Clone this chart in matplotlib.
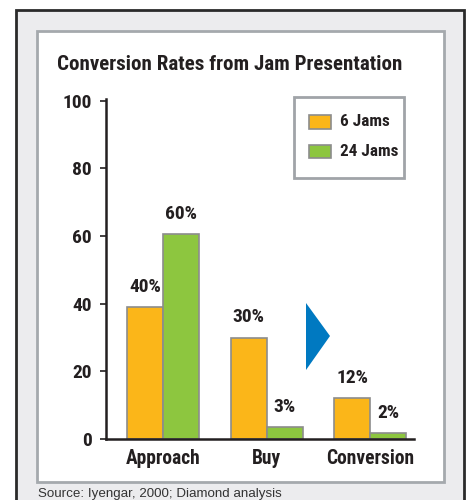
import matplotlib
matplotlib.use("Agg")
import matplotlib.pyplot as plt
import numpy as np
from matplotlib import font_manager as fm
from matplotlib.patches import Rectangle, Polygon

# data
categories = ["Approach", "Buy", "Conversion"]
series_names = ["6 Jams", "24 Jams"]
six_jams = [39, 30, 12]
twentyfour_jams = [60.5, 3.5, 1.8]
six_labels = ["40%", "30%", "12%"]
twentyfour_labels = ["60%", "3%", "2%"]
yticks = [0, 20, 40, 60, 80, 100]

W, H = 471, 500
ink = "#231f20"
orange = "#fbb619"
green = "#8dc63f"
edge = "#8c8c8c"


def wnum(w):
    if isinstance(w, (int, float)):
        return w
    return fm.weight_dict.get(str(w).lower(), 400)


# pick a condensed bold face file if one is installed
fonts = fm.fontManager.ttflist
cands = [f for f in fonts
         if ("Narrow" in f.name or "Condensed" in f.name or "ondensed" in str(f.stretch)
             or "Condensed" in f.fname or "Narrow" in f.fname)
         and wnum(f.weight) >= 700 and f.style == "normal"]
pref = ["Liberation Sans Narrow", "Roboto Condensed", "Open Sans Condensed", "DejaVu Sans"]
cands.sort(key=lambda f: (pref.index(f.name) if f.name in pref else 10, abs(wnum(f.weight) - 700)))
if cands:
    BOLD = dict(fname=cands[0].fname)
else:
    BOLD = dict(family=["Liberation Sans", "DejaVu Sans"], weight="bold")


def fp(size):
    return fm.FontProperties(size=size, **BOLD)


def fx(x):
    return x / W


def fy(y):
    return 1 - y / H


def fit(txt, target):
    # scale a text so its width in pixels matches the reference
    r = fig.canvas.get_renderer()
    wpx = txt.get_window_extent(r).width
    txt.set_fontsize(txt.get_fontsize() * target / wpx)


fig = plt.figure(figsize=(W / 100, H / 100), dpi=100)
fig.patch.set_facecolor("white")

# outer grey panel with black frame, inner white panel with grey frame
fig.patches.append(Rectangle((fx(16), fy(520)), fx(464) - fx(16), fy(10) - fy(520),
                             transform=fig.transFigure, facecolor="#ececee",
                             edgecolor="#2a2a2a", lw=2, zorder=0))
fig.patches.append(Rectangle((fx(37), fy(482)), fx(444) - fx(37), fy(31) - fy(482),
                             transform=fig.transFigure, facecolor="white",
                             edgecolor="#a5a9ad", lw=2, zorder=1))

title = fig.text(fx(57), fy(64), "Conversion Rates from Jam Presentation",
                 fontproperties=fp(14.5), color=ink, va="center", ha="left", zorder=3)
src = fig.text(fx(38), fy(494), "Source: Iyengar, 2000; Diamond analysis",
               family=["Liberation Sans", "DejaVu Sans"],
               fontsize=8.6, color="#333333", va="center", ha="left", zorder=3)

ax = fig.add_axes([fx(106), fy(439), fx(414) - fx(106), fy(99) - fy(439)])
ax.set_zorder(2)
ax.patch.set_alpha(0)

x = np.arange(len(categories))
w = 0.348
ax.bar(x - w / 2, six_jams, w, color=orange, edgecolor=edge, lw=1.2, zorder=2)
ax.bar(x + w / 2, twentyfour_jams, w, color=green, edgecolor=edge, lw=1.2, zorder=2)

vals = []
for xi, v, t in zip(x - w / 2, six_jams, six_labels):
    vals.append(ax.text(xi, v + 6, t, ha="center", va="center", fontproperties=fp(12.5), color=ink))
for xi, v, t in zip(x + w / 2, twentyfour_jams, twentyfour_labels):
    vals.append(ax.text(xi, v + 6, t, ha="center", va="center", fontproperties=fp(12.5), color=ink))

ax.set_xlim(-0.551, 2.425)
ax.set_ylim(0, 100.5)
ax.set_yticks(yticks)
ax.set_xticks(x)
ax.set_xticklabels(categories)
for s in ["top", "right"]:
    ax.spines[s].set_visible(False)
for s in ["left", "bottom"]:
    ax.spines[s].set_color(ink)
    ax.spines[s].set_linewidth(1.8)
ax.tick_params(axis="y", length=4.3, width=1.2, color=ink, pad=6)
ax.tick_params(axis="x", length=0, pad=7)
for lab in ax.get_yticklabels():
    lab.set_fontproperties(fp(12.5))
    lab.set_color(ink)
for lab in ax.get_xticklabels():
    lab.set_fontproperties(fp(13.5))
    lab.set_color(ink)

# legend box drawn by hand to match the reference frame
fig.patches.append(Rectangle((fx(294), fy(178)), fx(404) - fx(294), fy(97) - fy(178),
                             transform=fig.transFigure, facecolor="white",
                             edgecolor="#a0a4a8", lw=2, zorder=3))
leg_texts = []
for i, (name, col) in enumerate(zip(series_names, [orange, green])):
    yc = 122 + 29 * i
    fig.patches.append(Rectangle((fx(309), fy(yc + 6.5)), fx(331) - fx(309), fy(yc - 6.5) - fy(yc + 6.5),
                                 transform=fig.transFigure, facecolor=col,
                                 edgecolor=edge, lw=1.2, zorder=4))
    leg_texts.append(fig.text(fx(340), fy(yc), name, fontproperties=fp(12), color=ink,
                              va="center", ha="left", zorder=4))

# match the widths of the reference texts
fit(title, 346)
fit(src, 242)
fig.canvas.draw()
r = fig.canvas.get_renderer()
k = 75 / ax.get_xticklabels()[0].get_window_extent(r).width
xsize = min(13.5 * k, 15)
for lab in ax.get_xticklabels():
    lab.set_fontsize(xsize)
k2 = 36 / vals[0].get_window_extent(r).width
vsize = min(12.5 * k2, 14)
for t in vals:
    t.set_fontsize(vsize)
for lab in ax.get_yticklabels():
    lab.set_fontsize(vsize)
k3 = 58 / leg_texts[1].get_window_extent(r).width
for t in leg_texts:
    t.set_fontsize(min(12 * k3, 14))

# blue arrow marker
fig.patches.append(Polygon([(fx(306), fy(303)), (fx(330), fy(336)), (fx(306), fy(370))],
                           closed=True, transform=fig.transFigure, facecolor="#0079c1",
                           edgecolor="none", zorder=3))

fig.savefig("out.png", dpi=100)
